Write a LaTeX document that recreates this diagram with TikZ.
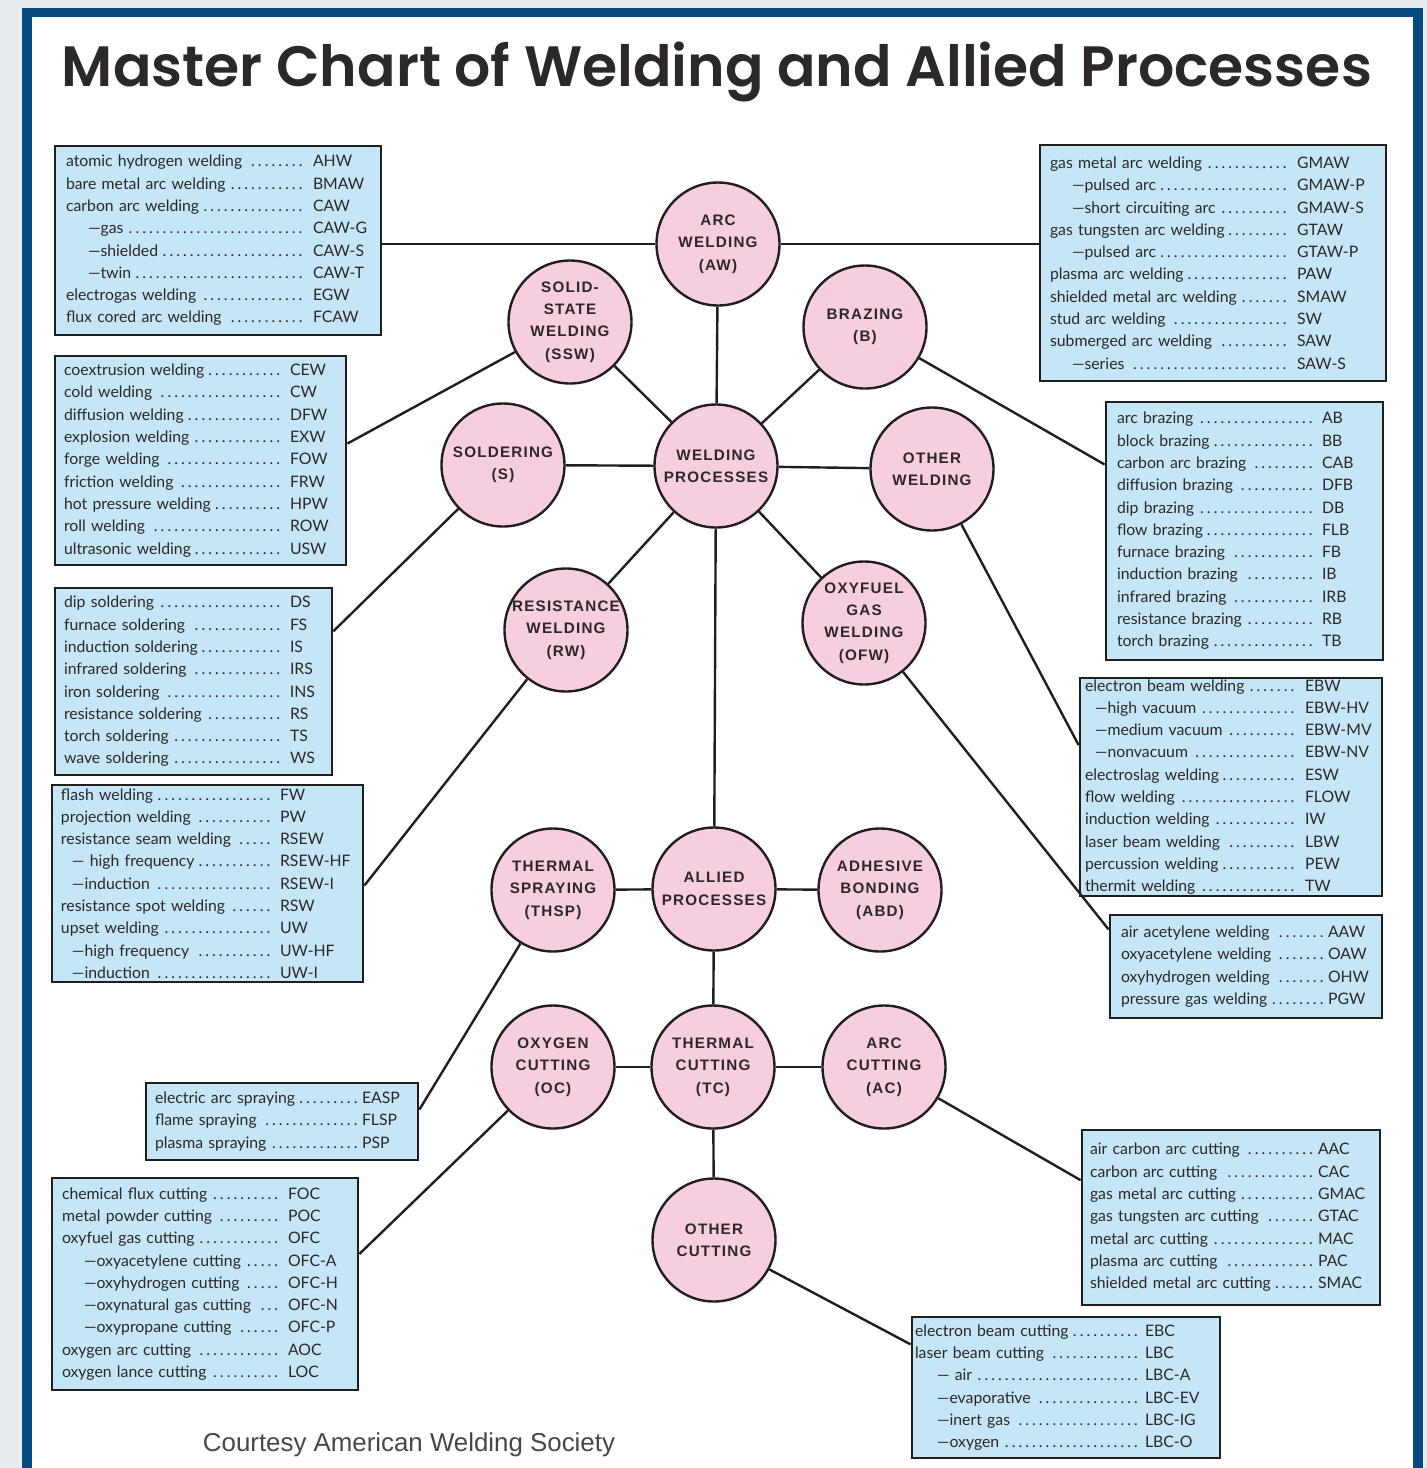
\documentclass[tikz,border=0pt]{standalone}
\usepackage{fontspec}
\setmainfont{Lato}
\newfontfamily\circfont[LetterSpace=8]{Liberation Sans}
\newfontfamily\titlefont{Poppins SemiBold}
\newfontfamily\courtfont{Liberation Sans}
\usetikzlibrary{calc}
\definecolor{bgcol}{RGB}{232,236,238}
\definecolor{frameblue}{RGB}{5,73,126}
\definecolor{boxfill}{RGB}{196,230,246}
\definecolor{circfill}{RGB}{246,206,224}
\definecolor{inkcol}{RGB}{35,30,30}
\definecolor{txtcol}{RGB}{45,40,40}
\newdimen\abw
\def\dotsfill{\leaders\hbox to 3.4pt{\hss.\hss}\hfill}
\newcommand\ent[2]{\hbox to\hsize{#1\hskip1pt\dotsfill\hskip1.5pt\hbox to\abw{#2\hss}}}
\newcommand\sbi[3][11pt]{\ent{\hskip#1#2}{#3}}
\newcommand\lbox[8]{%
 \pgfmathsetmacro\bx{(#2+#4)/2}\pgfmathsetmacro\by{(#3+#5)/2}%
 \pgfmathsetmacro\bxs{(#6-#2)*0.5}%
 \pgfmathsetmacro\btw{(#4-#2)*0.5-2*\bxs}%
 \pgfmathsetmacro\babw{(#4-#6+#2-#7)*0.5}%
 \pgfmathsetmacro\bh{(#5-#3)*0.5}%
 \node[lbox, inner xsep=\bxs pt, text width=\btw pt, minimum height=\bh pt] (#1) at (\bx,\by) {\abw=\babw pt\relax #8};
}
\begin{document}
\begin{tikzpicture}[x=0.5pt,y=-0.5pt,
  lbox/.style={draw=inkcol, line width=1.4pt, fill=boxfill, inner ysep=0pt,
     font=\fontsize{7.9}{11.15}\selectfont, text=txtcol},
  circ/.style={circle, draw=inkcol, line width=1.2pt, fill=circfill, minimum size=61.5pt,
     inner sep=0pt, align=center, text=txtcol,
     font=\circfont\bfseries\fontsize{7.6}{11.2}\selectfont},
  conn/.style={draw=inkcol, line width=1.2pt}]
\useasboundingbox (0,0) rectangle (1427,1468);
\fill[bgcol] (0,0) rectangle (1427,1468);
\fill[frameblue] (22,8) rectangle (1423,1468);
\fill[white] (32,17) rectangle (1413,1468);

\node[text=txtcol, inner sep=0, anchor=base] (title) at (717,86)
  {\resizebox{655pt}{!}{\titlefont Master Chart of Welding and Allied Processes}};
\node[text=black!72, inner sep=0] (court) at (409,1445)
  {\resizebox{206pt}{!}{\courtfont Courtesy American Welding Society}};

% circles
\node[circ] (aw) at (718,244) {ARC\\WELDING\\(AW)};
\node[circ] (ssw) at (570,322) {SOLID-\\STATE\\WELDING\\(SSW)};
\node[circ] (br) at (865,327) {BRAZING\\(B)};
\node[circ] (so) at (503,465) {SOLDERING\\(S)};
\node[circ] (wp) at (716,466) {WELDING\\PROCESSES};
\node[circ] (ow) at (932,469) {OTHER\\WELDING};
\node[circ] (rw) at (566,630) {RESISTANCE\\WELDING\\(RW)};
\node[circ] (ofw) at (864,623) {OXYFUEL\\GAS\\WELDING\\(OFW)};
\node[circ] (thsp) at (553,890) {THERMAL\\SPRAYING\\(THSP)};
\node[circ] (ap) at (714,889) {ALLIED\\PROCESSES};
\node[circ] (abd) at (880,890) {ADHESIVE\\BONDING\\(ABD)};
\node[circ] (oc) at (553,1067) {OXYGEN\\CUTTING\\(OC)};
\node[circ] (tc) at (713,1067) {THERMAL\\CUTTING\\(TC)};
\node[circ] (ac) at (884,1067) {ARC\\CUTTING\\(AC)};
\node[circ] (otc) at (714,1240) {OTHER\\CUTTING};

% boxes
\lbox{awl}{55}{146}{381}{335}{66}{313}{%
\ent{atomic hydrogen welding}{AHW}
\ent{bare metal arc welding}{BMAW}
\ent{carbon arc welding}{CAW}
\sbi{—gas}{CAW-G}
\sbi{—shielded}{CAW-S}
\sbi{—twin}{CAW-T}
\ent{electrogas welding}{EGW}
\ent{flux cored arc welding}{FCAW}}

\lbox{awr}{1040}{145}{1386}{381}{1050}{1297}{%
\ent{gas metal arc welding}{GMAW}
\sbi{—pulsed arc}{GMAW-P}
\sbi{—short circuiting arc}{GMAW-S}
\ent{gas tungsten arc welding}{GTAW}
\sbi{—pulsed arc}{GTAW-P}
\ent{plasma arc welding}{PAW}
\ent{shielded metal arc welding}{SMAW}
\ent{stud arc welding}{SW}
\ent{submerged arc welding}{SAW}
\sbi{—series}{SAW-S}}

\lbox{sswb}{55}{356}{346}{565}{64}{290}{%
\ent{coextrusion welding}{CEW}
\ent{cold welding}{CW}
\ent{diffusion welding}{DFW}
\ent{explosion welding}{EXW}
\ent{forge welding}{FOW}
\ent{friction welding}{FRW}
\ent{hot pressure welding}{HPW}
\ent{roll welding}{ROW}
\ent{ultrasonic welding}{USW}}

\lbox{sob}{55}{588}{332}{775}{64}{290}{%
\ent{dip soldering}{DS}
\ent{furnace soldering}{FS}
\ent{induction soldering}{IS}
\ent{infrared soldering}{IRS}
\ent{iron soldering}{INS}
\ent{resistance soldering}{RS}
\ent{torch soldering}{TS}
\ent{wave soldering}{WS}}

\lbox{rwb}{52}{785}{363}{982}{61}{280}{%
\ent{flash welding}{FW}
\ent{projection welding}{PW}
\ent{resistance seam welding}{RSEW}
\sbi[5.5pt]{— high frequency}{RSEW-HF}
\sbi[5.5pt]{—induction}{RSEW-I}
\ent{resistance spot welding}{RSW}
\ent{upset welding}{UW}
\sbi[5.5pt]{—high frequency}{UW-HF}
\sbi[5.5pt]{—induction}{UW-I}}

\lbox{brb}{1106}{402}{1383}{660}{1117}{1322}{%
\ent{arc brazing}{AB}
\ent{block brazing}{BB}
\ent{carbon arc brazing}{CAB}
\ent{diffusion brazing}{DFB}
\ent{dip brazing}{DB}
\ent{flow brazing}{FLB}
\ent{furnace brazing}{FB}
\ent{induction brazing}{IB}
\ent{infrared brazing}{IRB}
\ent{resistance brazing}{RB}
\ent{torch brazing}{TB}}

\lbox{owb}{1080}{678}{1382}{896}{1085}{1305}{%
\ent{electron beam welding}{EBW}
\sbi[5pt]{—high vacuum}{EBW-HV}
\sbi[5pt]{—medium vacuum}{EBW-MV}
\sbi[5pt]{—nonvacuum}{EBW-NV}
\ent{electroslag welding}{ESW}
\ent{flow welding}{FLOW}
\ent{induction welding}{IW}
\ent{laser beam welding}{LBW}
\ent{percussion welding}{PEW}
\ent{thermit welding}{TW}}

\lbox{ofwb}{1110}{915}{1382}{1018}{1121}{1328}{%
\ent{air acetylene welding}{AAW}
\ent{oxyacetylene welding}{OAW}
\ent{oxyhydrogen welding}{OHW}
\ent{pressure gas welding}{PGW}}

\lbox{thb}{146}{1083}{418}{1160}{155}{362}{%
\ent{electric arc spraying}{EASP}
\ent{flame spraying}{FLSP}
\ent{plasma spraying}{PSP}}

\lbox{ocb}{52}{1178}{358}{1390}{62}{288}{%
\ent{chemical flux cutting}{FOC}
\ent{metal powder cutting}{POC}
\ent{oxyfuel gas cutting}{OFC}
\sbi{—oxyacetylene cutting}{OFC-A}
\sbi{—oxyhydrogen cutting}{OFC-H}
\sbi{—oxynatural gas cutting}{OFC-N}
\sbi{—oxypropane cutting}{OFC-P}
\ent{oxygen arc cutting}{AOC}
\ent{oxygen lance cutting}{LOC}}

\lbox{acb}{1082}{1130}{1380}{1305}{1090}{1318}{%
\ent{air carbon arc cutting}{AAC}
\ent{carbon arc cutting}{CAC}
\ent{gas metal arc cutting}{GMAC}
\ent{gas tungsten arc cutting}{GTAC}
\ent{metal arc cutting}{MAC}
\ent{plasma arc cutting}{PAC}
\ent{shielded metal arc cutting}{SMAC}}

\lbox{otcb}{912}{1317}{1220}{1458}{915}{1145}{%
\ent{electron beam cutting}{EBC}
\ent{laser beam cutting}{LBC}
\sbi{— air}{LBC-A}
\sbi{—evaporative}{LBC-EV}
\sbi{—inert gas}{LBC-IG}
\sbi{—oxygen}{LBC-O}}

% connectors
\draw[conn] (aw) -- (wp);
\draw[conn] (aw.west) -- (aw.west -| awl.east);
\draw[conn] (aw.east) -- (aw.east -| awr.west);
\draw[conn] (ssw) -- (wp);
\draw[conn] (br) -- (wp);
\draw[conn] (so) -- (wp);
\draw[conn] (ow) -- (wp);
\draw[conn] (wp) -- (rw);
\draw[conn] (wp) -- (ofw);
\draw[conn] (wp) -- (ap);
\draw[conn] (ap) -- (thsp);
\draw[conn] (ap) -- (abd);
\draw[conn] (ap) -- (tc);
\draw[conn] (tc) -- (oc);
\draw[conn] (tc) -- (ac);
\draw[conn] (tc) -- (otc);
\draw[conn] (ssw) -- ($(sswb.north east)!0.42!(sswb.south east)$);
\draw[conn] (so) -- ($(sob.north east)!0.235!(sob.south east)$);
\draw[conn] (rw) -- ($(rwb.north east)!0.51!(rwb.south east)$);
\draw[conn] (br) -- ($(brb.north west)!0.245!(brb.south west)$);
\draw[conn] (ow) -- ($(owb.north west)!0.31!(owb.south west)$);
\draw[conn] (ofw) -- ($(ofwb.north west)!0.15!(ofwb.south west)$);
\draw[conn] (thsp) -- ($(thb.north east)!0.35!(thb.south east)$);
\draw[conn] (oc) -- ($(ocb.north east)!0.36!(ocb.south east)$);
\draw[conn] (ac) -- ($(acb.north west)!0.29!(acb.south west)$);
\draw[conn] (otc) -- ($(otcb.north west)!0.2!(otcb.south west)$);
\end{tikzpicture}
\end{document}
